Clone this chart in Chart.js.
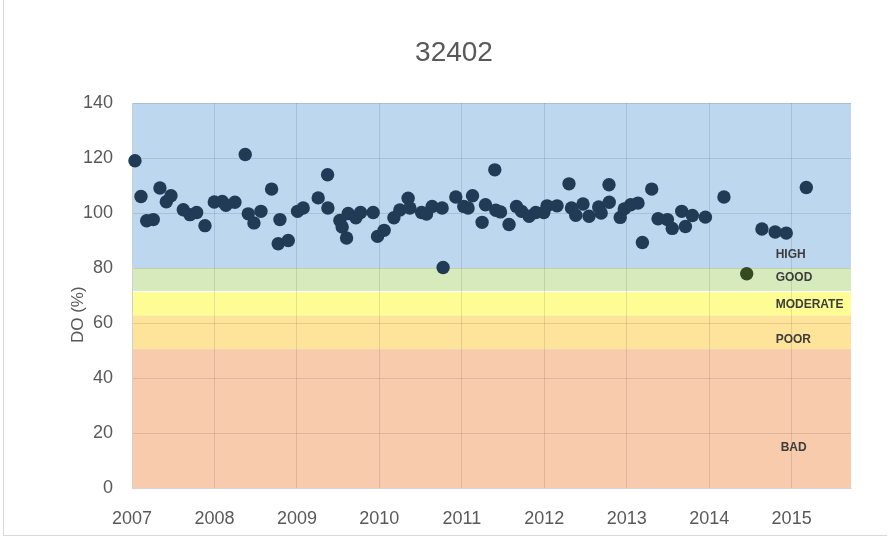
<!DOCTYPE html>
<html><head><meta charset="utf-8">
<script src="https://cdn.jsdelivr.net/npm/chart.js@4/dist/chart.umd.min.js"></script>
<style>html,body{margin:0;padding:0;background:#fff;overflow:hidden}
#wrap{position:relative;width:888px;height:539px}
#frame{position:absolute;left:3px;top:0;width:884px;height:536px;border-left:1px solid #d9d9d9;border-bottom:1px solid #d9d9d9;box-sizing:border-box;pointer-events:none}
canvas{display:block}
</style></head><body><div id="wrap"><canvas id="c" width="888" height="539"></canvas><div id="frame"></div></div>
<script>
// ---- data ----
const sampleYears = [
  2007.036, 2007.109, 2007.178, 2007.258, 2007.339, 2007.416, 2007.473, 2007.622, 2007.703, 2007.784,
  2007.885, 2007.998, 2008.095, 2008.139, 2008.248, 2008.373, 2008.410, 2008.479, 2008.564, 2008.693,
  2008.773, 2008.794, 2008.895, 2009.008, 2009.076, 2009.258, 2009.372, 2009.376, 2009.521, 2009.549,
  2009.602, 2009.622, 2009.715, 2009.772, 2009.925, 2009.978, 2010.058, 2010.176, 2010.248, 2010.349,
  2010.370, 2010.512, 2010.572, 2010.640, 2010.761, 2010.773, 2010.927, 2011.024, 2011.076, 2011.130,
  2011.246, 2011.287, 2011.400, 2011.412, 2011.469, 2011.573, 2011.663, 2011.724, 2011.816, 2011.897,
  2011.994, 2012.034, 2012.155, 2012.300, 2012.330, 2012.382, 2012.470, 2012.543, 2012.660, 2012.690,
  2012.785, 2012.788, 2012.921, 2012.970, 2013.048, 2013.137, 2013.190, 2013.303, 2013.380, 2013.493,
  2013.552, 2013.667, 2013.712, 2013.796, 2013.954, 2014.179, 2014.455, 2014.640, 2014.800, 2014.935,
  2015.178
];
const doValues = [
  119.0, 106.0, 97.2, 97.6, 109.1, 104.1, 106.3, 101.2, 99.4, 100.2,
  95.4, 104.0, 104.2, 102.8, 103.9, 121.3, 99.7, 96.4, 100.6, 108.7,
  88.8, 97.6, 90.0, 100.6, 101.8, 105.5, 113.9, 101.8, 97.3, 94.9,
  90.9, 99.8, 98.3, 100.2, 100.2, 91.5, 93.7, 98.3, 101.1, 105.4,
  101.8, 100.2, 99.6, 102.4, 101.8, 80.2, 105.8, 102.4, 101.8, 106.3,
  96.6, 103.0, 115.7, 101.0, 100.4, 95.8, 102.4, 100.6, 98.8, 100.2,
  100.2, 102.6, 102.6, 110.6, 101.8, 99.2, 103.3, 98.8, 102.2, 100.0,
  110.3, 103.9, 98.4, 101.5, 103.0, 103.6, 89.3, 108.7, 97.9, 97.6,
  94.4, 100.6, 95.1, 99.1, 98.5, 105.8, 77.9, 94.2, 93.1, 92.7,
  109.3
];
const xTickYears = [2007, 2008, 2009, 2010, 2011, 2012, 2013, 2014, 2015];
const yTickValues = [0, 20, 40, 60, 80, 100, 120, 140];
const bandNames = ['BAD', 'POOR', 'MODERATE', 'GOOD', 'HIGH'];
const bandLower = [0, 50.5, 62.8, 71.6, 80];
const bandUpper = [50.5, 62.8, 71.2, 80, 140];
const bandLabelAt = [14.5, 53.9, 66.7, 76.5, 84.8];
const yAxisTitle = 'DO (%)';

// ---- styles ----
const bandColors = ['#F8CBAD', '#FEE39A', '#FDFD94', '#D6EABC', '#BDD7EE'];
const pointNavy = '#213A55';
const pointOlive = '#364A22';
const textGray = '#595959';
const fontFam = '"Liberation Sans", Arial, sans-serif';

const bandPlugin = {
  id: 'bands',
  beforeDraw(chart) {
    const {ctx, chartArea: a, scales: {y}} = chart;
    ctx.save();
    for (let i = 0; i < bandNames.length; i++) {
      const top = y.getPixelForValue(bandUpper[i]);
      const bot = y.getPixelForValue(bandLower[i]);
      ctx.fillStyle = bandColors[i];
      ctx.fillRect(a.left, top, a.right - a.left, bot - top);
    }
    ctx.restore();
  },
  afterDatasetsDraw(chart) {
    const {ctx, chartArea: a, scales: {x, y}} = chart;
    ctx.save();
    ctx.font = 'bold 12px ' + fontFam;
    ctx.fillStyle = '#3c3c3c';
    ctx.textBaseline = 'middle';
    const xr = x.getPixelForValue(2015);
    for (let i = 0; i < bandNames.length; i++) {
      ctx.textAlign = bandNames[i] === 'BAD' ? 'center' : 'left';
      const px = bandNames[i] === 'BAD' ? xr + 2 : xr - 16;
      ctx.fillText(bandNames[i], px, y.getPixelForValue(bandLabelAt[i]));
    }
    // y axis title
    ctx.translate(a.left - 54, y.getPixelForValue(63));
    ctx.rotate(-Math.PI / 2);
    ctx.textAlign = 'center';
    ctx.font = '17px ' + fontFam;
    ctx.fillStyle = textGray;
    ctx.fillText(yAxisTitle, 0, 0);
    ctx.restore();
  }
};

const tickFont = {family: fontFam, size: 18};

new Chart(document.getElementById('c'), {
  type: 'scatter',
  data: {
    datasets: [{
      data: sampleYears.map((x, i) => ({x: x, y: doValues[i]})),
      backgroundColor: doValues.map(v => (v < 79.5 ? pointOlive : pointNavy)),
      borderColor: doValues.map(v => (v < 79.5 ? pointOlive : pointNavy)),
      borderWidth: 0,
      pointRadius: 6.7,
      pointHoverRadius: 6.7,
      clip: false
    }]
  },
  options: {
    responsive: false,
    animation: false,
    devicePixelRatio: 1,
    layout: {padding: {left: 57, right: 37, top: 10, bottom: 0}},
    plugins: {
      legend: {display: false},
      tooltip: {enabled: false},
      title: {
        display: true, text: '32402', color: textGray,
        font: {family: fontFam, size: 28, weight: 'normal'},
        padding: {top: 26, bottom: 33.4}
      }
    },
    scales: {
      x: {
        type: 'linear', min: 2007, max: 2015.72,
        afterBuildTicks: s => { s.ticks = xTickYears.map(v => ({value: v})); },
        afterFit: s => { s.height = 51; },
        ticks: {color: textGray, font: tickFont, padding: 20, maxRotation: 0, autoSkip: false,
                callback: v => String(v)},
        grid: {color: 'rgba(0,0,0,0.1)', drawTicks: false},
        border: {color: 'rgba(0,0,0,0.08)'}
      },
      y: {
        min: 0, max: 140,
        afterBuildTicks: s => { s.ticks = yTickValues.map(v => ({value: v})); },
        afterFit: s => { s.width = 75; },
        ticks: {color: textGray, font: tickFont, padding: 19, callback: v => String(v)},
        grid: {color: 'rgba(0,0,0,0.1)', drawTicks: false},
        border: {color: '#d0d0d0'}
      }
    }
  },
  plugins: [bandPlugin]
});
</script></body></html>
